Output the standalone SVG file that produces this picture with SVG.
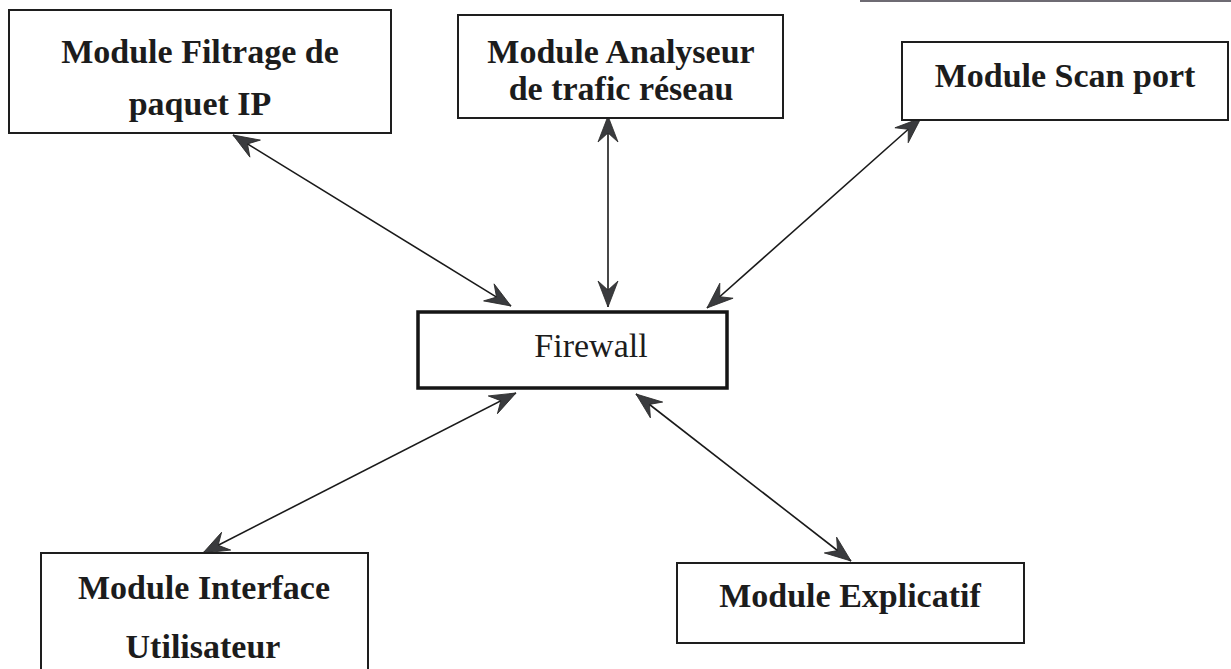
<svg xmlns="http://www.w3.org/2000/svg" width="1231" height="669" viewBox="0 0 1231 669">
  <style>
    .box { fill: #ffffff; stroke: #1e1e1e; stroke-width: 2; }
    .core { fill: #ffffff; stroke: #151515; stroke-width: 3.5; }
    .label { font-family: "Liberation Serif", "Times New Roman", serif; font-size: 34px; font-weight: bold; fill: #1c1c1c; text-anchor: middle; }
    .plain { font-family: "Liberation Serif", "Times New Roman", serif; font-size: 34px; fill: #1c1c1c; text-anchor: middle; }
    .link { stroke: #1a1a1a; stroke-width: 1.6; fill: none; marker-start: url(#barb); marker-end: url(#barb); }
  </style>
  <defs>
    <!-- barbed arrowhead, tip at origin pointing along +x -->
    <marker id="barb" viewBox="-28 -12 30 24" refX="0" refY="0" markerWidth="30" markerHeight="24" markerUnits="userSpaceOnUse" orient="auto-start-reverse">
      <path d="M0,0 L-26,-10 L-17,0 L-26,10 Z" fill="#3a3b3e" stroke="#2a2a2a" stroke-width="0.8" stroke-linejoin="miter"/>
    </marker>
  </defs>

  <rect width="1231" height="669" fill="#ffffff"/>
  <!-- dark strip along the top right edge -->
  <rect x="860" y="0" width="371" height="2" fill="#3e3a44" opacity="0.75"/>

  <g id="connectors">
    <line class="link" x1="233" y1="135" x2="511" y2="306"/>
    <line class="link" x1="608" y1="116" x2="608" y2="307"/>
    <line class="link" x1="921" y1="118" x2="707" y2="308"/>
    <line class="link" x1="516" y1="393" x2="203" y2="553"/>
    <line class="link" x1="636" y1="394" x2="851" y2="561"/>
  </g>

  <g id="filtrage">
    <rect class="box" x="9" y="10" width="382" height="123"/>
    <text class="label" x="200" y="63">Module Filtrage de</text>
    <text class="label" x="200" y="115">paquet IP</text>
  </g>

  <g id="analyseur">
    <rect class="box" x="458" y="15" width="325" height="103"/>
    <text class="label" x="621" y="63">Module Analyseur</text>
    <text class="label" x="621" y="100">de trafic réseau</text>
  </g>

  <g id="scan">
    <rect class="box" x="902" y="42" width="326" height="78"/>
    <text class="label" x="1065" y="87">Module Scan port</text>
  </g>

  <g id="firewall">
    <rect class="core" x="418" y="312" width="309" height="76"/>
    <text class="plain" x="591" y="357">Firewall</text>
  </g>

  <g id="interface">
    <rect class="box" x="41" y="553" width="327" height="125"/>
    <text class="label" x="204" y="599">Module Interface</text>
    <text class="label" x="203" y="658">Utilisateur</text>
  </g>

  <g id="explicatif">
    <rect class="box" x="677" y="563" width="347" height="80"/>
    <text class="label" x="850" y="607">Module Explicatif</text>
  </g>
</svg>
